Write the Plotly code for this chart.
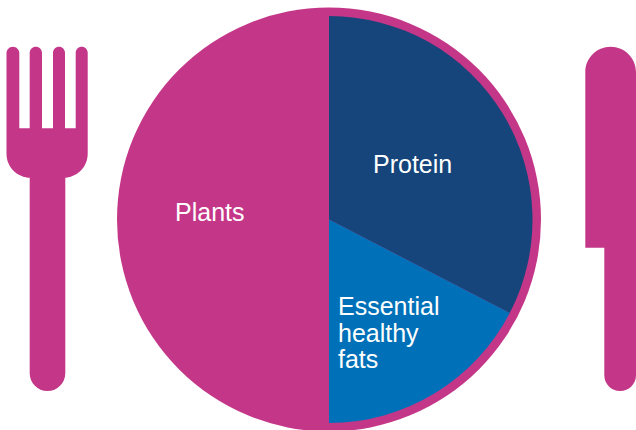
import plotly.graph_objects as go

# Data
categories = ["Protein", "Essential healthy fats", "Plants"]
shares = [32.6, 17.4, 50.0]
slice_colors = ["#15457A", "#0071B8", "#C43788"]
PINK = "#C43788"

# Labels: text, x, y
label_text = ["Plants", "Protein", "Essential", "healthy", "fats"]
label_x = [175, 373, 338, 338, 338]
label_y = [212, 164, 306, 333, 359]

K = 0.5523


def corner(x0, y0, x1, y1, horizontal_first):
    if horizontal_first:
        c1 = (x0 + (x1 - x0) * K, y0)
        c2 = (x1, y1 - (y1 - y0) * K)
    else:
        c1 = (x0, y0 + (y1 - y0) * K)
        c2 = (x1 - (x1 - x0) * K, y1)
    return f"C{c1[0]:.2f},{c1[1]:.2f} {c2[0]:.2f},{c2[1]:.2f} {x1:.2f},{y1:.2f} "


def fork_path():
    top, notch, bottom = 46.7, 128.3, 177.7
    tines = [(6.5, 19.3), (29.7, 42.0), (53.0, 65.0), (75.7, 87.7)]
    hl, hr, hb = 29.7, 65.3, 391.0
    p = f"M{tines[0][0]},{bottom - 24} L{tines[0][0]},{top + 6.4} "
    for i, (a, b) in enumerate(tines):
        r = (b - a) / 2
        m = (a + b) / 2
        p += f"L{a},{top + r} " + corner(a, top + r, m, top, False) + corner(m, top, b, top + r, True)
        if i < 3:
            p += f"L{b},{notch} L{tines[i + 1][0]},{notch} "
    p += f"L87.7,{bottom - 24} " + corner(87.7, bottom - 24, 63.7, bottom, False)
    p += f"L{hr},{bottom} L{hr},{hb - 17.8} "
    p += corner(hr, hb - 17.8, 47.5, hb, False) + corner(47.5, hb, hl, hb - 17.8, True)
    p += f"L{hl},{bottom} L30.5,{bottom} " + corner(30.5, bottom, 6.5, bottom - 24, True)
    return p + "Z"


def knife_path():
    l, r, top, step, hl, hb = 585.3, 636.0, 46.7, 247.7, 604.3, 391.0
    m = (l + r) / 2
    rad = (r - l) / 2
    hm = (hl + r) / 2
    hr = (r - hl) / 2
    p = f"M{l},{top + rad} " + corner(l, top + rad, m, top, False) + corner(m, top, r, top + rad, True)
    p += f"L{r},{hb - hr} " + corner(r, hb - hr, hm, hb, False) + corner(hm, hb, hl, hb - hr, True)
    p += f"L{hl},{step} L{l},{step} Z"
    return p


W, H = 636, 430
cx, cy, r_outer, r_inner = 329, 219.5, 212, 203.5

fig = go.Figure()
fig.add_trace(go.Pie(
    labels=categories,
    values=shares,
    sort=False,
    direction="clockwise",
    rotation=0,
    marker=dict(colors=slice_colors, line=dict(width=0)),
    textinfo="none",
    hoverinfo="label+percent",
    showlegend=False,
    domain=dict(
        x=[(cx - r_inner) / W, (cx + r_inner) / W],
        y=[1 - (cy + r_inner) / H, 1 - (cy - r_inner) / H],
    ),
))

shapes = [
    dict(type="circle", xref="x", yref="y", x0=cx - r_outer, x1=cx + r_outer,
         y0=cy - r_outer, y1=cy + r_outer, fillcolor=PINK, line=dict(width=0), layer="below"),
    dict(type="path", xref="x", yref="y", path=fork_path(), fillcolor=PINK, line=dict(width=0), layer="below"),
    dict(type="path", xref="x", yref="y", path=knife_path(), fillcolor=PINK, line=dict(width=0), layer="below"),
]

annotations = [
    dict(x=x, y=y, xref="x", yref="y", text=t, showarrow=False, xanchor="left", yanchor="middle",
         xshift=-2.5, font=dict(family="Liberation Sans, Arial, sans-serif", size=25, color="white"))
    for t, x, y in zip(label_text, label_x, label_y)
]

fig.update_layout(
    width=W, height=H,
    margin=dict(l=0, r=0, t=0, b=0),
    paper_bgcolor="white",
    plot_bgcolor="rgba(0,0,0,0)",
    xaxis=dict(range=[0, W], visible=False, fixedrange=True),
    yaxis=dict(range=[H, 0], visible=False, fixedrange=True),
    shapes=shapes,
    annotations=annotations,
)

fig.write_html(
    "out.html",
    config={"displayModeBar": False},
    post_script="document.body.style.margin='0';document.documentElement.style.overflow='hidden';",
)
